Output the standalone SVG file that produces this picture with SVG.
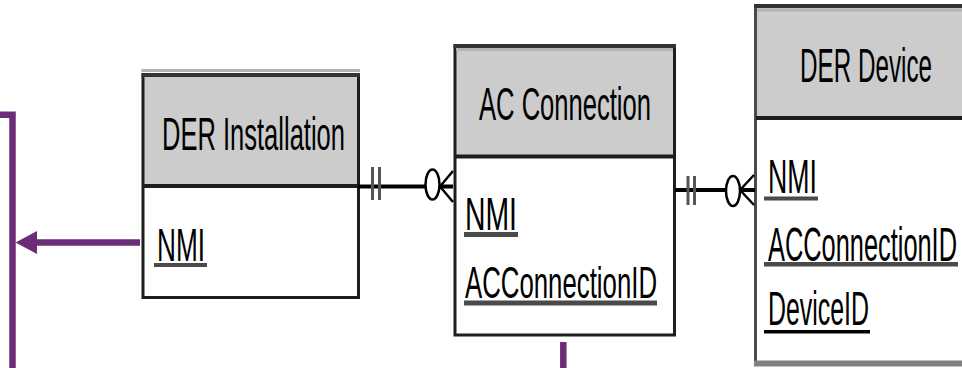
<svg xmlns="http://www.w3.org/2000/svg" width="962" height="368" viewBox="0 0 962 368">
<defs>
<style>
.hdr{fill:#cccccc}
.body{fill:#ffffff}
.frame{fill:none;stroke:#1e1e1e;stroke-width:3}
.topb{stroke:#333333;stroke-width:4}
.topl{stroke:#b4b4b4;stroke-width:3}
.div{stroke:#1e1e1e;stroke-width:4}
.t{font-family:"Liberation Sans","Noto Sans","DejaVu Sans",sans-serif;font-size:25px;fill:#000}
.ul{fill:#4a4a4a}
.rel{stroke:#000;stroke-width:4;fill:none}
.tick{stroke:#555;stroke-width:3}
.circ{fill:#fff;stroke:#000;stroke-width:2.5}
.crow{stroke:#000;stroke-width:2.5;fill:none}
.pur{stroke:#6b2d78;stroke-width:6.5;fill:none}
</style>
</defs>
<rect width="962" height="368" fill="#ffffff"/>

<g id="der-installation">
<rect class="body" x="143" y="75" width="215.5" height="222.5"/>
<rect class="hdr" x="143" y="75" width="215.5" height="110.5"/>
<line class="topl" x1="141.5" y1="70.5" x2="360" y2="70.5"/>
<rect class="frame" x="143" y="75" width="215.5" height="222.5"/>
<line class="topb" x1="141.5" y1="75" x2="360" y2="75"/>
<line class="div" x1="143" y1="186" x2="358.5" y2="186"/>
<text class="t" transform="translate(162 150) scale(1 1.85)" textLength="183" lengthAdjust="spacingAndGlyphs">DER Installation</text>
<text class="t" transform="translate(157 261) scale(1 1.85)" textLength="48" lengthAdjust="spacingAndGlyphs">NMI</text>
<rect class="ul" x="154" y="263" width="53" height="4"/>
</g>

<g id="ac-connection">
<rect class="body" x="455" y="46" width="219.5" height="289"/>
<rect class="hdr" x="455" y="46" width="219.5" height="110.5"/>
<rect class="frame" x="455" y="46" width="219.5" height="289"/>
<line class="topb" x1="453.5" y1="46" x2="676" y2="46"/>
<line class="topl" x1="456" y1="49.5" x2="673" y2="49.5"/>
<line class="div" x1="455" y1="156.5" x2="674.5" y2="156.5"/>
<text class="t" transform="translate(479 120) scale(1 1.85)" textLength="172" lengthAdjust="spacingAndGlyphs">AC Connection</text>
<text class="t" transform="translate(465 230) scale(1 1.85)" textLength="52" lengthAdjust="spacingAndGlyphs">NMI</text>
<rect class="ul" x="464" y="232" width="54" height="5"/>
<text class="t" transform="translate(465 298.3) scale(1 1.8)" textLength="192" lengthAdjust="spacingAndGlyphs">ACConnectionID</text>
<rect class="ul" x="464" y="300.5" width="193" height="5"/>
</g>

<g id="der-device">
<rect class="body" x="756" y="6" width="206" height="358"/>
<rect class="hdr" x="756" y="6" width="206" height="112"/>
<line x1="755.5" y1="6" x2="755.5" y2="366" stroke="#4a4a4a" stroke-width="3"/>
<line class="topb" x1="754" y1="6" x2="962" y2="6"/>
<line class="topl" x1="757" y1="10" x2="962" y2="10"/>
<line class="div" x1="756" y1="118" x2="962" y2="118"/>
<line x1="754" y1="363.5" x2="962" y2="363.5" stroke="#808080" stroke-width="6"/>
<text class="t" transform="translate(800 81.7) scale(1 1.9)" textLength="132" lengthAdjust="spacingAndGlyphs">DER Device</text>
<text class="t" transform="translate(768 193.3) scale(1 1.9)" textLength="49" lengthAdjust="spacingAndGlyphs">NMI</text>
<rect class="ul" x="764" y="196.5" width="54" height="4"/>
<text class="t" transform="translate(768 260.7) scale(1 1.9)" textLength="189" lengthAdjust="spacingAndGlyphs">ACConnectionID</text>
<rect class="ul" x="764" y="262" width="194" height="4.5"/>
<text class="t" transform="translate(768 325) scale(1 1.9)" textLength="101" lengthAdjust="spacingAndGlyphs">DeviceID</text>
<rect x="764" y="330" width="106" height="3.5" fill="#000"/>
</g>

<g id="connectors">
<line class="rel" x1="358" y1="186.5" x2="453" y2="186.5"/>
<line class="tick" x1="372.5" y1="167" x2="372.5" y2="200"/>
<line class="tick" x1="379.5" y1="167" x2="379.5" y2="200"/>
<ellipse class="circ" cx="432.5" cy="184.5" rx="7" ry="15"/>
<path class="crow" d="M440 186.5 L453 171 M440 186.5 L453 186.5 M440 186.5 L453 202"/>

<line class="rel" x1="675" y1="190" x2="755" y2="190"/>
<line class="tick" x1="688" y1="176" x2="688" y2="205"/>
<line class="tick" x1="694.5" y1="176" x2="694.5" y2="205"/>
<ellipse class="circ" cx="733" cy="191" rx="7" ry="15"/>
<path class="crow" d="M740 190 L754 175 M740 190 L754 190 M740 190 L754 205"/>

<path class="pur" d="M0 114.8 H12.5 V368"/>
<line class="pur" x1="140" y1="242.5" x2="34" y2="242.5"/>
<polygon points="15.5,242.5 37,231 37,254" fill="#6b2d78"/>
<line class="pur" x1="563.3" y1="342" x2="563.3" y2="368" stroke-width="7.5"/>
</g>
</svg>
